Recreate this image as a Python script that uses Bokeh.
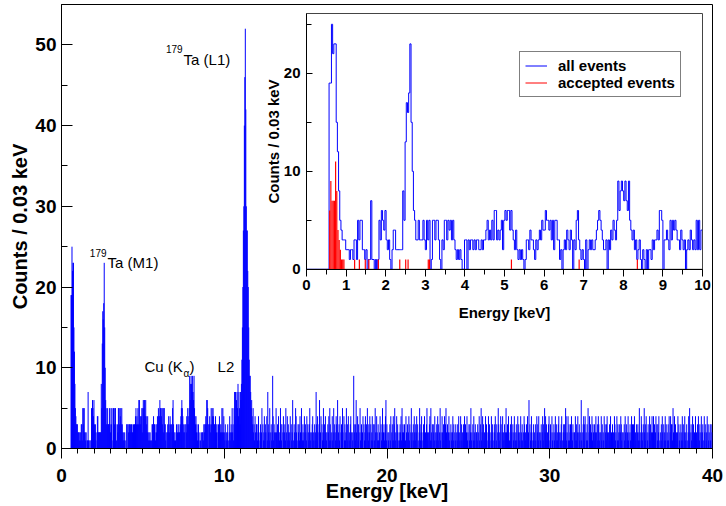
import numpy as np
from bokeh.plotting import figure
from bokeh.models import (Range1d, LinearAxis, SingleIntervalTicker, Legend,
                          LegendItem)
from bokeh.core.properties import value
from bokeh.embed import file_html
from bokeh.resources import INLINE

# ---------------- data ----------------
BIN_WIDTH = 0.03  # keV per bin

# counts per 0.03 keV bin, 0 - 10 keV (333 bins)
counts_0_10 = [
    0, 0, 0, 0, 0, 0, 0, 0, 0, 0, 0, 0, 0, 0, 0, 0, 0, 0, 0, 19,
    19, 25, 22, 23, 23, 15, 12, 8, 5, 4, 3, 3, 3, 2, 2, 2, 1, 2, 2, 1,
    3, 3, 1, 5, 3, 5, 5, 2, 2, 1, 2, 0, 1, 1, 7, 1, 1, 0, 1, 0,
    1, 5, 3, 6, 5, 4, 6, 3, 2, 3, 1, 0, 2, 4, 4, 2, 2, 2, 2, 2,
    2, 8, 5, 13, 17, 16, 18, 23, 15, 10, 6, 5, 3, 3, 5, 3, 3, 3, 5, 3,
    2, 5, 3, 5, 0, 1, 5, 5, 3, 5, 5, 3, 1, 0, 3, 2, 5, 5, 3, 5,
    4, 5, 3, 5, 3, 2, 1, 2, 1, 2, 1, 0, 0, 3, 3, 0, 3, 2, 3, 3,
    2, 3, 2, 3, 3, 2, 2, 3, 2, 3, 3, 4, 5, 3, 4, 3, 5, 3, 6, 6,
    3, 4, 3, 4, 5, 2, 5, 6, 5, 6, 6, 4, 6, 4, 3, 2, 4, 2, 1, 2,
    1, 2, 1, 0, 1, 3, 3, 2, 4, 3, 3, 2, 1, 3, 2, 3, 4, 3, 5, 4,
    4, 6, 5, 5, 4, 5, 3, 5, 2, 5, 5, 3, 3, 1, 2, 0, 2, 3, 2, 4,
    3, 2, 4, 3, 0, 3, 2, 5, 6, 3, 2, 1, 2, 1, 0, 3, 0, 2, 3, 2,
    3, 2, 2, 3, 4, 5, 6, 5, 4, 3, 2, 2, 3, 0, 3, 2, 4, 3, 5, 4,
    3, 5, 9, 6, 8, 9, 8, 7, 9, 7, 6, 9, 5, 4, 3, 4, 2, 3, 1, 2,
    3, 1, 0, 2, 1, 0, 2, 0, 2, 2, 1, 3, 2, 3, 3, 4, 3, 6, 6, 5,
    0, 3, 3, 4, 3, 2, 5, 3, 5, 4, 5, 4, 3, 3, 2, 4, 3, 2, 3, 0,
    2, 3, 2, 4, 3, 2, 3, 2, 5, 2, 5, 2, 4,
]

# 10 - 12 keV (67 bins): L2 shoulder and 179Ta L1 line
counts_10_12 = [
    2, 1, 3, 0, 2, 1, 2, 3, 1, 0, 2, 4, 1, 2, 3, 2, 5, 2, 3, 1,
    5, 7, 4, 7, 3, 6, 7, 5, 8, 4, 7, 5, 3, 7, 6, 8, 11, 15, 20, 27,
    30, 40, 46, 52, 42, 30, 27, 27, 22, 20, 15, 11, 9, 9, 7, 5, 6, 4, 3, 5,
    2, 3, 1, 4, 2, 0, 3,
]

# 12 - 40 keV (933 bins), one digit per bin
counts_12_40 = (
    "31241023125031241320417321520312941320252130421253"
    "13024123152041321240312601321542103231420521312403"
    "21403213521023412031273142036124031251304212032415"
    "31204125032143160231402315204131250314021342021093"
    "21362041320512312403124130521324031241303152042131"
    "12403125023124613021203140231413521042310213241523"
    "21301420312413025120314213240310253124102314021352"
    "12034152130321402132413025120421314035213024120312"
    "24130213021324120413021324130241203132512031421302"
    "21302410351240312041320142310241320132401302531204"
    "30241203125213042103142031240123104231204123102431"
    "21304126031242013120310423142021302413052413021340"
    "13204120312403121342021340123132541204131230421302"
    "20413124023120612034134021315024130241320312420314"
    "31202413021403213420213041203120431204131230243120"
    "20314203124120312403132402130231251024312035213402"
    "13024130242140312403132401203142031241302131402413"
    "31520413021240312031241302412031024152031240312041"
    "213042130241230142031240312031302"
)

# accepted events (red), bin index and counts
accepted_bins = [19, 20, 21, 22, 23, 24, 25, 26, 27, 28, 29, 30, 31,
                 40, 44, 49, 52, 60, 78, 83, 85, 102, 103, 172, 229, 278]
accepted_counts = [6, 9, 7, 7, 7, 11, 8, 4, 3, 2, 1, 1, 1,
                   1, 1, 1, 1, 1, 1, 1, 1, 1, 1, 1, 1, 1]

# annotations (keV, counts)
ann_text = ["Ta (L1)", "Ta (M1)", "Cu (K", "L2"]
ann_x = [7.50, 2.83, 5.10, 9.59]
ann_y = [48.2, 23.0, 10.2, 10.1]

counts = counts_0_10 + counts_10_12 + [int(c) for c in counts_12_40]
centers = (np.arange(len(counts)) + 0.5) * BIN_WIDTH
edges = np.arange(len(counts) + 1) * BIN_WIDTH

FONT = "Liberation Sans"

# ---------------- main figure ----------------
FRAME_W, FRAME_H = 651, 444
p = figure(frame_width=FRAME_W, frame_height=FRAME_H,
           x_range=Range1d(0, 40), y_range=Range1d(0, 55),
           output_backend="svg", toolbar_location=None,
           min_border_left=61, min_border_right=12,
           min_border_top=4, min_border_bottom=56)
p.grid.visible = False
p.outline_line_color = "black"
p.outline_line_width = 1
p.background_fill_color = "white"
p.border_fill_color = "white"

p.segment(x0=centers, y0=np.zeros(len(counts)), x1=centers, y1=counts,
          line_color="#0000ff", line_width=1)

xa = p.xaxis[0]
xa.ticker = SingleIntervalTicker(interval=10, num_minor_ticks=10)
xa.major_tick_out = 10
xa.major_tick_in = 0
xa.minor_tick_out = 5
xa.minor_tick_in = 0
xa.axis_label = "Energy [keV]"
xa.major_label_standoff = 10
xa.axis_label_standoff = -5

ya = p.yaxis[0]
ya.ticker = SingleIntervalTicker(interval=10, num_minor_ticks=2)
ya.major_tick_in = 11
ya.major_tick_out = 0
ya.minor_tick_in = 6
ya.minor_tick_out = 0
ya.axis_label = "Counts / 0.03 keV"
ya.major_label_standoff = 5
ya.axis_label_standoff = 1

for ax in (xa, ya):
    ax.major_label_text_font = FONT
    ax.major_label_text_font_size = "19px"
    ax.major_label_text_font_style = "bold"
    ax.major_label_text_color = "black"
    ax.axis_label_text_font = FONT
    ax.axis_label_text_font_size = "20px"
    ax.axis_label_text_font_style = "bold"
    ax.axis_label_text_color = "black"
    ax.axis_line_color = "black"
    ax.major_tick_line_color = "black"
    ax.minor_tick_line_color = "black"

# annotations
p.text(x=ann_x, y=ann_y, text=ann_text, text_font=value(FONT),
       text_font_size="15px", text_baseline="alphabetic", text_align="left",
       text_color="black")
p.text(x=ann_x[:2], y=ann_y[:2], text=["179", "179"], text_font=value(FONT),
       text_font_size="10px", text_baseline="alphabetic", text_align="right",
       x_offset=-1, y_offset=-10, text_color="black")
p.text(x=ann_x[2:3], y=ann_y[2:3], text=["\u03b1"], text_font=value(FONT),
       text_font_size="10px", text_baseline="alphabetic", text_align="left",
       x_offset=39, y_offset=7, text_color="black")
p.text(x=ann_x[2:3], y=ann_y[2:3], text=[")"], text_font=value(FONT),
       text_font_size="15px", text_baseline="alphabetic", text_align="left",
       x_offset=45, text_color="black")

# ---------------- inset (extra ranges mapped onto a sub-area) ----------------
IX0, IX1 = 0.0, 10.0
IY0, IY1 = 0.0, 26.1
in_left, in_right = 245.0, 641.0      # px from frame left
in_bottom, in_top = 179.2, 435.0      # px from frame bottom
sx = (in_right - in_left) / (IX1 - IX0)
sy = (in_top - in_bottom) / (IY1 - IY0)
p.extra_x_ranges = {"ix": Range1d(IX0 - in_left / sx, IX1 + (FRAME_W - in_right) / sx)}
p.extra_y_ranges = {"iy": Range1d(IY0 - in_bottom / sy, IY1 + (FRAME_H - in_top) / sy)}

p.quad(left=[IX0], right=[IX1], bottom=[IY0], top=[IY1],
       x_range_name="ix", y_range_name="iy",
       fill_color="white", line_color="#444444", line_width=1)

n_in = len(counts_0_10)
inset_edges = edges[:n_in + 1]
inset_top = counts_0_10 + [counts_0_10[-1]]
r_all = p.step(x=inset_edges, y=inset_top, mode="after",
               line_color="#0000ff", line_width=1,
               x_range_name="ix", y_range_name="iy")

acc_x = (np.array(accepted_bins) + 0.5) * BIN_WIDTH
p.vbar(x=acc_x, top=accepted_counts, bottom=0, width=BIN_WIDTH,
       fill_color="#ff0000", line_color=None,
       x_range_name="ix", y_range_name="iy")
# legend entry for accepted events (drawn as a line, like the reference)
r_acc = p.line(x=[np.nan], y=[np.nan], line_color="#ff0000", line_width=1,
               x_range_name="ix", y_range_name="iy")

iax = LinearAxis(x_range_name="ix", y_range_name="iy", fixed_location=0,
                 bounds=(IX0, IX1),
                 ticker=SingleIntervalTicker(interval=1, num_minor_ticks=2),
                 axis_label="Energy [keV]")
iax.major_tick_out = 7
iax.major_tick_in = 0
iax.minor_tick_out = 5
iax.minor_tick_in = 0
iax.major_label_standoff = 4
iax.axis_label_standoff = 10

iay = LinearAxis(x_range_name="ix", y_range_name="iy", fixed_location=0,
                 bounds=(IY0, IY1),
                 ticker=SingleIntervalTicker(interval=10, num_minor_ticks=2),
                 axis_label="Counts / 0.03 keV")
iay.major_tick_in = 6
iay.major_tick_out = 0
iay.minor_tick_in = 5
iay.minor_tick_out = 0
iay.major_label_standoff = 6
iay.axis_label_standoff = -1

for ax in (iax, iay):
    ax.major_label_text_font = FONT
    ax.major_label_text_font_size = "15px"
    ax.major_label_text_font_style = "bold"
    ax.major_label_text_color = "black"
    ax.axis_label_text_font = FONT
    ax.axis_label_text_font_size = "15px"
    ax.axis_label_text_font_style = "bold"
    ax.axis_label_text_color = "black"
    ax.axis_line_color = "black"
    ax.major_tick_line_color = "black"
    ax.minor_tick_line_color = "black"

p.add_layout(iax, "below")
p.add_layout(iay, "left")

legend = Legend(items=[LegendItem(label="all events", renderers=[r_all]),
                       LegendItem(label="accepted events", renderers=[r_acc])],
                location=(458, 351))
legend.label_text_font = FONT
legend.label_text_font_size = "15px"
legend.label_text_font_style = "bold"
legend.label_text_color = "black"
legend.border_line_color = "black"
legend.border_line_width = 1
legend.background_fill_color = "white"
legend.background_fill_alpha = 1
legend.padding = 5
legend.spacing = 0
legend.margin = 0
legend.glyph_width = 22
legend.glyph_height = 17
legend.label_height = 17
legend.label_standoff = 11
p.add_layout(legend, "center")

open("out.html", "w").write(file_html(p, INLINE))
